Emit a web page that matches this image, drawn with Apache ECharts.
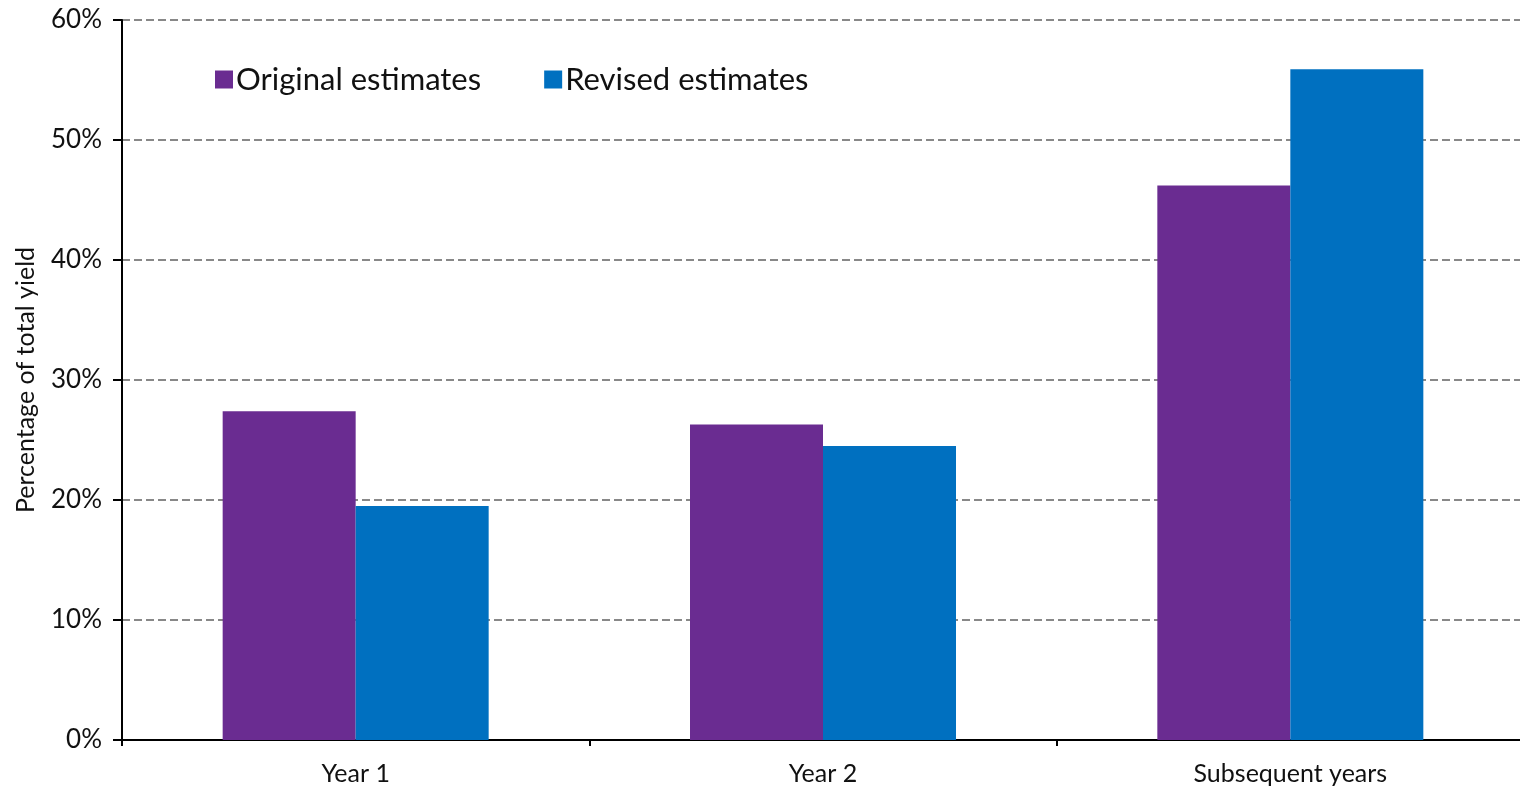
<!DOCTYPE html>
<html>
<head>
<meta charset="utf-8">
<script src="https://cdn.jsdelivr.net/npm/echarts@6/dist/echarts.min.js"></script>
<style>
  html, body { margin: 0; padding: 0; background: #fff; }
  #chart { width: 1520px; height: 787px; }
</style>
</head>
<body>
<div id="chart"></div>
<script>
// Share of total yield by period
const categories = ['Year 1', 'Year 2', 'Subsequent years'];
const originalEstimates = [27.4, 26.3, 46.2];
const revisedEstimates = [19.5, 24.5, 55.9];
const seriesNames = ['Original estimates', 'Revised estimates'];
const yTicks = [0, 10, 20, 30, 40, 50, 60];

const FONT = 'Lato, "Open Sans", sans-serif';
const chart = echarts.init(document.getElementById('chart'));

chart.setOption({
  animation: false,
  grid: { left: 122, width: 1402, top: 20, bottom: 47, containLabel: false, outerBoundsMode: 'none' },
  legend: {
    left: 210, top: 59,
    itemWidth: 18, itemHeight: 18, itemGap: 63,
    icon: 'rect',
    textStyle: { fontFamily: FONT, fontSize: 31, color: '#111', padding: [0, 0, 0, -2] },
    data: seriesNames
  },
  xAxis: {
    type: 'category',
    data: categories,
    boundaryGap: true,
    axisLine: { lineStyle: { color: '#000', width: 2 } },
    axisTick: { show: true, length: 6, lineStyle: { color: '#000', width: 2 } },
    axisLabel: { fontFamily: FONT, fontSize: 25, color: '#111', margin: 21 }
  },
  yAxis: {
    type: 'value',
    min: yTicks[0], max: yTicks[yTicks.length - 1], interval: 10,
    name: 'Percentage of total yield',
    nameLocation: 'middle',
    nameGap: 84,
    nameTextStyle: { fontFamily: FONT, fontSize: 25, color: '#111' },
    axisLine: { show: true, lineStyle: { color: '#000', width: 2 } },
    axisTick: { show: true, length: 9, lineStyle: { color: '#000', width: 2 } },
    axisLabel: { fontFamily: FONT, fontSize: 26, color: '#111', margin: 20,
                 formatter: v => v + '%' },
    splitLine: { show: true, lineStyle: { color: '#888', width: 2, type: [8, 4] } }
  },
  series: [
    {
      name: seriesNames[0], type: 'bar', data: originalEstimates,
      barWidth: 133, barGap: '0%',
      itemStyle: { color: '#6A2C91' }
    },
    {
      name: seriesNames[1], type: 'bar', data: revisedEstimates,
      barWidth: 133, barGap: '0%',
      itemStyle: { color: '#0070C0' }
    }
  ]
});
</script>
</body>
</html>
